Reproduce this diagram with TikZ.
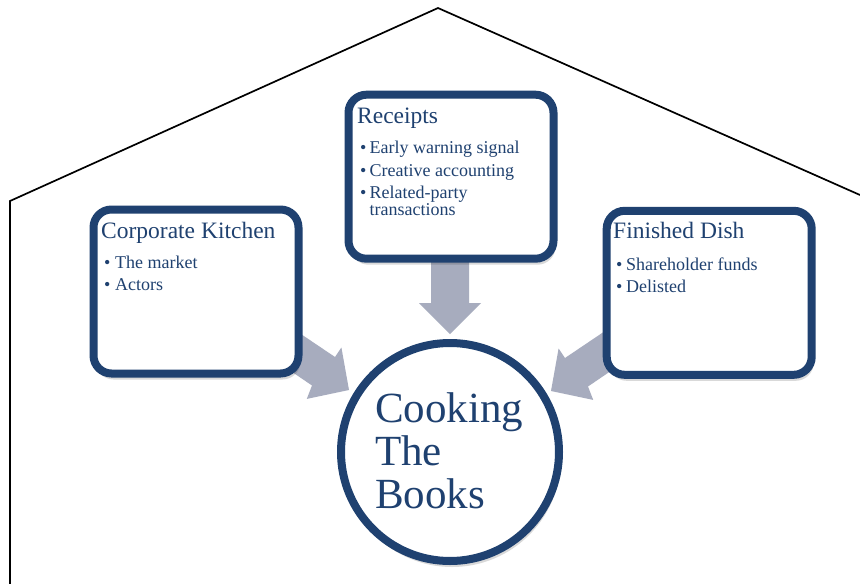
\documentclass[tikz,border=0pt]{standalone}
\usepackage{fontspec}
\setmainfont{Liberation Serif}
\usetikzlibrary{shadows}
\definecolor{navy}{HTML}{1F4170}
\definecolor{arrowgray}{HTML}{A7ACBE}
\tikzset{
  panel/.style={draw=navy, line width=8pt, rounded corners=18pt, fill=white,
    minimum width=205pt, minimum height=164pt, inner sep=0pt,
    drop shadow={shadow xshift=2pt, shadow yshift=-6pt, opacity=0.15, fill=black}},
  hub/.style={circle, draw=navy, line width=8pt, fill=white, minimum size=218pt, inner sep=0pt,
    drop shadow={shadow xshift=2pt, shadow yshift=-6pt, opacity=0.15, fill=black}},
  heading/.style={anchor=base west, inner sep=0pt, text=navy, font=\fontsize{23.5}{28}\selectfont},
  item/.style={anchor=base west, inner sep=0pt, text=navy, font=\fontsize{18}{21}\selectfont},
  hubtext/.style={anchor=base west, inner sep=0pt, text=navy, font=\fontsize{43}{43}\selectfont},
  wall/.style={draw=black, line width=1.7pt, line join=miter},
  flow/.style={fill=arrowgray},
}
\newcommand{\bul}[1]{\makebox[#1][l]{\textbullet}}
\begin{document}
\begin{tikzpicture}[x=1pt, y=-1pt]
\useasboundingbox (0,0) rectangle (860,584);
\fill[white] (0,0) rectangle (860,584);

% house outline
\coordinate (base) at (10,584);
\coordinate (eaveL) at (10,201);
\coordinate (apex) at (438,8);
\coordinate (eaveR) at (860,195);
\draw[wall] (base) -- (eaveL) -- (apex) -- (eaveR);

% block arrows
\fill[flow] (431,250) -- (431,303) -- (419,303) -- (450,334) -- (481,303) -- (469,303) -- (469,250) -- cycle;
\fill[flow] (265,353.5) -- (312,385.5) -- (306.8,398.9) -- (349,390) -- (341.4,347.5) -- (335,357) -- (285.3,323.5) -- cycle;
\fill[flow] (635,354.5) -- (588,386.5) -- (593.2,399.9) -- (551,391) -- (558.6,348.5) -- (565,358) -- (614.7,324.5) -- cycle;

% panels
\node[panel] (kitchen) at (196,291.5) {};
\node[panel] (receipts) at (451,176.7) {};
\node[panel] (dish) at (709.2,292.8) {};
\node[hub] (cook) at (450,452) {};

% kitchen text
\node[heading] (kt) at (101,238) {Corporate Kitchen};
\node[item] (k1) at (104,268) {\bul{11pt}The market};
\node[item] (k2) at (104,290) {\bul{11pt}Actors};

% receipts text
\node[heading] (rt) at (357,123) {Receipts};
\node[item] (r1) at (360,153) {\bul{9.5pt}Early warning signal};
\node[item] (r2) at (360,176) {\bul{9.5pt}Creative accounting};
\node[item] (r3) at (360,198) {\bul{9.5pt}Related-party};
\node[item] (r4) at (369.5,215) {transactions};

% dish text
\node[heading] (dt) at (613,238) {Finished Dish};
\node[item] (d1) at (616,270) {\bul{10pt}Shareholder funds};
\node[item] (d2) at (616,292) {\bul{10pt}Delisted};

% hub text
\node[hubtext] (c1) at (375,422) {Cooking};
\node[hubtext] (c2) at (375,465) {The};
\node[hubtext] (c3) at (375,508) {Books};
\end{tikzpicture}
\end{document}
